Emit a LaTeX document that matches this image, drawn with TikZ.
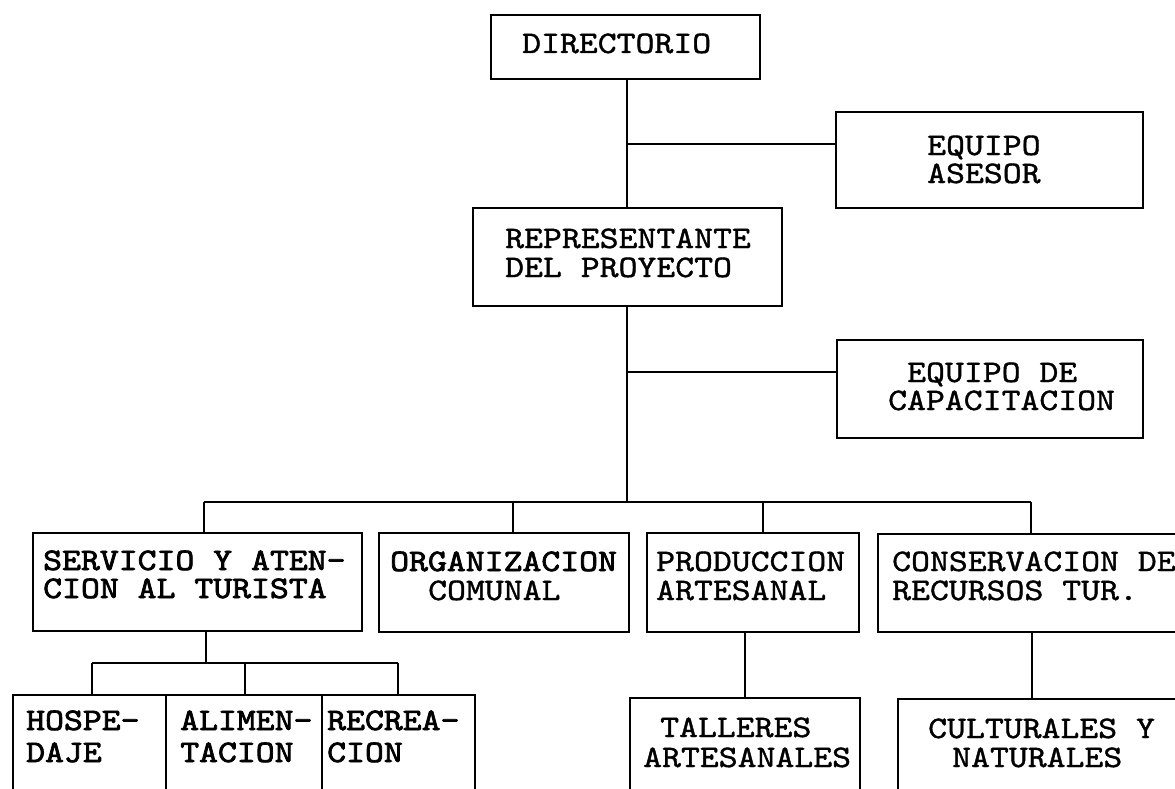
\documentclass[tikz,border=0pt]{standalone}
\usepackage{fontspec}
\usetikzlibrary{fit}
\newfontfamily\typew{lmmono10-regular.otf}[FakeStretch=1.15, FakeBold=1.2, BoldFont=lmmono10-regular.otf, BoldFeatures={FakeStretch=1.15, FakeBold=2.4}]
\begin{document}
\begin{tikzpicture}[x=1pt,y=-1pt,
  box/.style={draw, line width=2.4pt, inner sep=0pt, rectangle},
  conn/.style={line width=2.2pt},
  txt/.style={anchor=base west, inner sep=0pt, font=\typew\fontsize{31.3pt}{31.3pt}\selectfont},
  btxt/.style={txt, font=\typew\bfseries\fontsize{31.3pt}{31.3pt}\selectfont}]
\useasboundingbox[fill=white] (0,0) rectangle (1175,789);
% boxes
\node[box, fit={(491,15)(760,79)}] (dir) {};
\node[box, fit={(836,112)(1143,208)}] (ase) {};
\node[box, fit={(473,208)(782,306)}] (rep) {};
\node[box, fit={(837,340)(1143,438)}] (cap) {};
\node[box, fit={(33,533)(362,631)}] (serv) {};
\node[box, fit={(379,533)(629,632)}] (org) {};
\node[box, fit={(647,533)(859,632)}] (prod) {};
\node[box, fit={(878,534)(1200,632)}] (cons) {};
\node[box, fit={(13,695)(166,810)}] (hos) {};
\node[box, fit={(166,695)(322,810)}] (ali) {};
\node[box, fit={(322,695)(475,810)}] (rec) {};
\node[box, fit={(630,698)(860,810)}] (tal) {};
\node[box, fit={(898,699)(1200,810)}] (cul) {};
% texts
\node[txt] (t1) at (522,53) {DIRECTORIO};
\node[txt] (t2a) at (927,155) {EQUIPO};
\node[txt] (t2b) at (927,183) {ASESOR};
\node[txt] (t3a) at (505,248) {REPRESENTANTE};
\node[txt] (t3b) at (505,277) {DEL PROYECTO};
\node[txt] (t4a) at (907,382) {EQUIPO DE};
\node[txt] (t4b) at (888,410) {CAPACITACION};
\node[btxt] (t5a) at (43,570) {SERVICIO Y ATEN-};
\node[btxt] (t5b) at (43,598) {CION AL TURISTA};
\node[btxt] (t6a) at (390,571) {ORGANIZACION};
\node[txt] (t6b) at (428,600) {COMUNAL};
\node[txt] (t7a) at (656,571) {PRODUCCION};
\node[txt] (t7b) at (656,600) {ARTESANAL};
\node[txt] (t8a) at (892,571) {CONSERVACION DE};
\node[txt] (t8b) at (892,600) {RECURSOS TUR.};
\node[btxt] (t9a) at (26,730) {HOSPE-};
\node[btxt] (t9b) at (26,762) {DAJE};
\node[btxt] (t10a) at (180,730) {ALIMEN-};
\node[btxt] (t10b) at (180,762) {TACION};
\node[btxt] (t11a) at (327,730) {RECREA-};
\node[btxt] (t11b) at (327,762) {CION};
\node[txt] (t12a) at (660,737) {TALLERES};
\node[txt] (t12b) at (643,767) {ARTESANALES};
\node[txt] (t13a) at (928,738) {CULTURALES Y};
\node[txt] (t13b) at (952,767) {NATURALES};
% connectors
\coordinate (trunk) at (627,0);
\coordinate (s1) at (627,144);
\coordinate (s2) at (627,372);
\coordinate (busL) at (204,502);
\coordinate (busR) at (1031,502);
\coordinate (d2) at (513,502);
\coordinate (d3) at (763,502);
\coordinate (sbC) at (206,663);
\coordinate (sbL) at (92,663);
\coordinate (sbM) at (245,663);
\coordinate (sbR) at (398,663);
\coordinate (pd) at (745,0);
\coordinate (cd) at (1032,0);
\draw[conn] (dir.south -| trunk) -- (rep.north -| trunk);
\draw[conn] (s1) -- (s1 -| ase.west);
\draw[conn] (rep.south -| trunk) -- (trunk |- busL);
\draw[conn] (s2) -- (s2 -| cap.west);
\draw[conn] (busL) -- (busR);
\draw[conn] (busL) -- (busL |- serv.north);
\draw[conn] (d2) -- (d2 |- org.north);
\draw[conn] (d3) -- (d3 |- prod.north);
\draw[conn] (busR) -- (busR |- cons.north);
\draw[conn] (serv.south -| sbC) -- (sbC);
\draw[conn] (sbL) -- (sbR);
\draw[conn] (sbL) -- (sbL |- hos.north);
\draw[conn] (sbM) -- (sbM |- ali.north);
\draw[conn] (sbR) -- (sbR |- rec.north);
\draw[conn] (prod.south -| pd) -- (tal.north -| pd);
\draw[conn] (cons.south -| cd) -- (cul.north -| cd);
\end{tikzpicture}
\end{document}
